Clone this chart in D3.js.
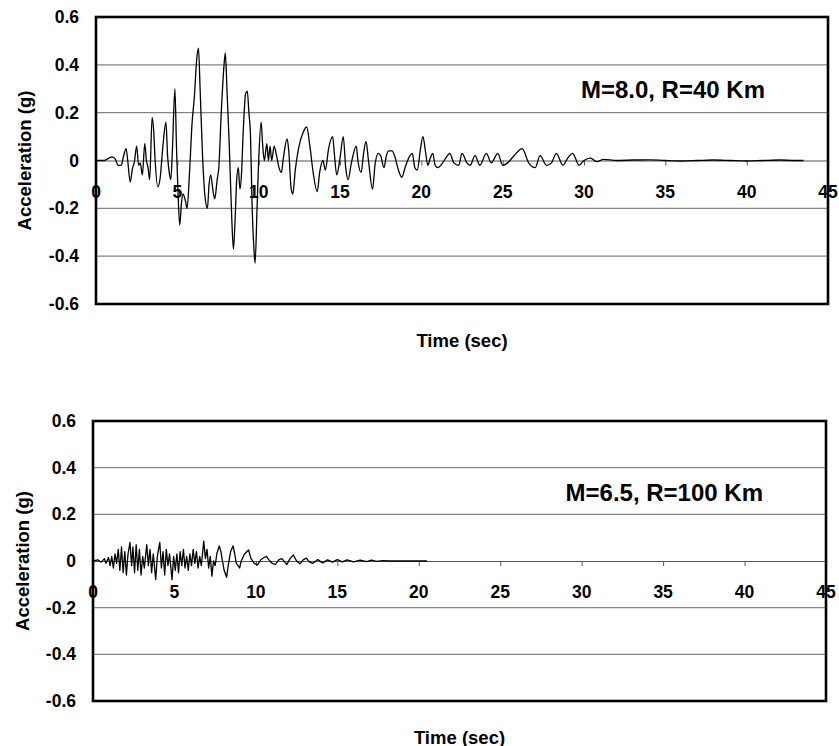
<!DOCTYPE html>
<html>
<head>
<meta charset="utf-8">
<script src="https://cdn.jsdelivr.net/npm/d3@7"></script>
<style>
  html, body { margin: 0; padding: 0; background: #fff; }
  svg text { font-family: "Liberation Sans", Arial, Helvetica, sans-serif; font-weight: bold; fill: #000; }
</style>
</head>
<body>
<svg id="chart" width="839" height="746"></svg>
<script>
// ---------------- DATA ----------------
const timeTicks = [0, 5, 10, 15, 20, 25, 30, 35, 40, 45];
const accelTicks = [0.6, 0.4, 0.2, 0, -0.2, -0.4, -0.6];
const accelLabels = ["0.6", "0.4", "0.2", "0", "-0.2", "-0.4", "-0.6"];
const xTitle = "Time (sec)";
const yTitle = "Acceleration (g)";
const titles = ["M=8.0, R=40 Km", "M=6.5, R=100 Km"];

// M=8.0, R=40 Km record (time s, acceleration g)
const timeA = [0,0.5,0.8,1.0,1.2,1.35,1.55,1.7,1.85,1.95,2.1,2.25,2.35,2.5,2.62,2.72,2.85,3.0,3.1,3.2,3.3,3.45,3.55,3.62,3.8,3.95,4.1,4.3,4.4,4.5,4.6,4.7,4.85,4.95,5.05,5.15,5.25,5.35,5.5,5.6,5.75,5.9,6.05,6.2,6.3,6.4,6.55,6.7,6.85,6.95,7.05,7.2,7.3,7.45,7.55,7.7,7.85,7.95,8.05,8.2,8.35,8.45,8.55,8.65,8.75,8.85,8.95,9.05,9.2,9.3,9.4,9.5,9.6,9.7,9.78,9.9,10.0,10.15,10.25,10.35,10.5,10.6,10.7,10.8,10.95,11.1,11.25,11.4,11.5,11.75,11.85,12.0,12.1,12.25,12.45,12.75,12.95,13.15,13.35,13.6,13.75,13.95,14.1,14.3,14.55,14.65,14.8,15.0,15.2,15.35,15.5,15.7,16.0,16.1,16.3,16.45,16.6,16.75,17.0,17.15,17.35,17.5,17.7,17.85,18.0,18.2,18.4,18.55,18.8,19.0,19.3,19.45,19.6,19.75,19.95,20.1,20.25,20.4,20.55,20.7,20.85,21.0,21.2,21.5,21.75,22.0,22.3,22.5,22.8,23.0,23.3,23.6,24.0,24.3,24.7,25.0,25.3,25.7,26.2,26.6,27.0,27.3,27.7,28.0,28.3,28.7,29.0,29.3,29.7,30.0,30.4,30.8,31.2,32,33,34,35,36,37,38,39,40,41,42,43,43.5];
const accelA = [0,0,0.01,0.015,0.005,-0.02,-0.02,0.02,0.05,0.0,-0.09,-0.03,-0.01,0.06,-0.02,-0.01,-0.06,0.07,0.0,-0.03,-0.08,0.18,0.12,0.02,-0.11,-0.07,0.05,0.16,0.02,-0.05,-0.08,0.05,0.3,0.05,-0.15,-0.27,-0.18,-0.14,-0.17,-0.2,-0.05,0.15,0.27,0.43,0.47,0.3,0.02,-0.15,-0.2,-0.1,-0.06,-0.13,-0.16,-0.08,-0.03,0.2,0.38,0.45,0.3,0.05,-0.25,-0.37,-0.25,-0.08,-0.03,-0.12,-0.05,0.12,0.28,0.29,0.2,0.1,-0.2,-0.36,-0.43,-0.2,0.0,0.16,0.06,0.0,0.07,0.0,0.06,0.0,0.06,0.02,-0.03,-0.05,0.0,0.09,0.04,-0.12,-0.14,-0.04,0.05,0.12,0.14,0.06,-0.05,-0.13,-0.05,0.0,-0.04,0.05,0.1,0.03,-0.06,0.01,0.1,-0.03,-0.08,-0.01,0.06,0.0,-0.05,0.03,0.08,0.0,-0.12,-0.02,0.03,0.02,-0.03,0.02,0.04,0.04,0.01,-0.03,-0.07,-0.03,0.02,0.03,-0.03,-0.04,0.05,0.1,0.04,-0.02,0.01,0.03,-0.02,-0.03,-0.02,0.01,0.03,-0.01,-0.02,0.03,-0.01,-0.02,0.02,-0.02,0.03,-0.01,0.03,-0.02,-0.01,0.02,0.05,-0.01,-0.03,0.02,-0.02,-0.01,0.03,-0.02,0.01,0.03,-0.02,0.0,0.01,-0.005,0.005,0,0.002,0.003,0,-0.002,0,0.002,0,-0.002,0,0.002,0,0];

// M=6.5, R=100 Km record (time s, acceleration g)
const timeB = [0,0.3,0.5,0.7,0.8,0.95,1.05,1.15,1.25,1.35,1.45,1.55,1.65,1.75,1.85,1.95,2.05,2.15,2.27,2.37,2.45,2.55,2.65,2.75,2.85,2.95,3.05,3.15,3.3,3.4,3.5,3.6,3.7,3.85,3.95,4.1,4.2,4.3,4.4,4.5,4.6,4.7,4.85,4.95,5.05,5.15,5.25,5.35,5.45,5.55,5.65,5.75,5.85,5.95,6.05,6.15,6.25,6.35,6.45,6.55,6.65,6.8,6.9,7.0,7.1,7.2,7.3,7.4,7.5,7.6,7.75,7.85,7.95,8.05,8.2,8.3,8.45,8.6,8.7,8.8,9.0,9.1,9.3,9.55,9.7,9.9,10.1,10.3,10.5,10.65,10.85,11.0,11.2,11.4,11.6,11.9,12.1,12.3,12.5,12.7,12.9,13.1,13.3,13.5,13.8,14.1,14.4,14.7,15.0,15.3,15.6,16.0,16.4,16.8,17.1,17.4,17.8,18.2,20.5];
const accelB = [0,0.005,-0.005,0.01,-0.01,0.015,-0.02,0.02,-0.03,0.03,-0.01,0.05,-0.04,0.06,-0.05,0.04,-0.06,0.03,0.08,-0.02,0.06,-0.05,0.07,-0.04,0.05,-0.06,0.02,-0.03,0.07,-0.02,0.05,-0.05,0.03,-0.08,0.02,0.08,-0.03,0.04,-0.06,0.05,-0.02,0.03,-0.08,0.02,-0.04,0.03,-0.05,0.04,-0.02,0.05,-0.03,0.02,-0.04,0.03,-0.02,0.05,-0.01,0.04,-0.03,0.02,-0.02,0.085,0.01,0.05,-0.03,0.02,-0.065,0.0,-0.02,0.03,0.065,0.04,0.0,-0.04,-0.07,-0.02,0.04,0.065,0.03,-0.01,-0.03,0.0,0.03,0.047,0.01,-0.01,-0.017,0.005,0.015,0.02,0.0,-0.01,-0.015,0.005,0.01,-0.015,0.01,0.026,0.0,-0.012,0.005,0.012,-0.005,-0.01,0.006,-0.008,0.005,-0.005,0.006,-0.004,0.005,-0.004,0.004,-0.003,0.004,-0.002,0.002,0,0];

// ---------------- DRAW ----------------
const svg = d3.select("#chart");

const panels = [
  { left: 96, top: 17, width: 732, height: 287, t: timeA, a: accelA, title: titles[0], yTitleX: 24, curve: d3.curveMonotoneX },
  { left: 93, top: 421, width: 733, height: 280, t: timeB, a: accelB, title: titles[1], yTitleX: 22, curve: d3.curveLinear }
];

panels.forEach(p => {
  const x = d3.scaleLinear().domain([0, 45]).range([p.left, p.left + p.width]);
  const y = d3.scaleLinear().domain([-0.6, 0.6]).range([p.top + p.height, p.top]);
  const g = svg.append("g");

  // gridlines
  g.selectAll("line.grid")
    .data(accelTicks.filter(v => v !== 0 && Math.abs(v) < 0.6))
    .enter().append("line")
    .attr("x1", p.left).attr("x2", p.left + p.width)
    .attr("y1", d => y(d)).attr("y2", d => y(d))
    .attr("stroke", "#858585").attr("stroke-width", 1.2);

  // zero axis with ticks
  const xAxis = d3.axisBottom(x).tickValues(timeTicks).tickSize(5).tickFormat("");
  const ax = g.append("g").attr("transform", `translate(0,${y(0)})`).call(xAxis);
  ax.select(".domain").attr("stroke", "#555").attr("stroke-width", 1.2);
  ax.selectAll(".tick line").attr("stroke", "#555").attr("stroke-width", 1);

  // x tick labels (drawn below the zero line)
  g.selectAll("text.xt")
    .data(timeTicks)
    .enter().append("text")
    .attr("x", d => x(d))
    .attr("y", y(0) + 31)
    .attr("text-anchor", "middle")
    .attr("dominant-baseline", "central")
    .style("font-size", "17.5px")
    .text(d => d);

  // y tick labels
  g.selectAll("text.yt")
    .data(accelTicks)
    .enter().append("text")
    .attr("x", p.left - 17)
    .attr("y", d => y(d))
    .attr("text-anchor", "end")
    .attr("dominant-baseline", "central")
    .style("font-size", "17.5px")
    .text((d, i) => accelLabels[i]);

  // waveform
  const line = d3.line().x(d => x(d[0])).y(d => y(d[1])).curve(p.curve);
  g.append("path")
    .datum(p.t.map((t, i) => [t, p.a[i]]))
    .attr("d", line)
    .attr("fill", "none")
    .attr("stroke", "#000")
    .attr("stroke-width", 1.3)
    .attr("stroke-linejoin", "round");

  // border
  g.append("rect")
    .attr("x", p.left).attr("y", p.top)
    .attr("width", p.width).attr("height", p.height)
    .attr("fill", "none").attr("stroke", "#000").attr("stroke-width", 2.6);

  // annotation
  g.append("text")
    .attr("x", p.left + p.width - 63)
    .attr("y", y(0.3) + 1)
    .attr("text-anchor", "end")
    .attr("dominant-baseline", "central")
    .style("font-size", "24px")
    .text(p.title);

  // axis titles
  g.append("text")
    .attr("x", p.left + p.width / 2)
    .attr("y", p.top + p.height + 36)
    .attr("text-anchor", "middle")
    .attr("dominant-baseline", "central")
    .style("font-size", "18.5px")
    .text(xTitle);

  g.append("text")
    .attr("transform", `translate(${p.yTitleX},${p.top + p.height / 2}) rotate(-90)`)
    .attr("text-anchor", "middle")
    .attr("dominant-baseline", "central")
    .style("font-size", "18.5px")
    .text(yTitle);
});
</script>
</body>
</html>
